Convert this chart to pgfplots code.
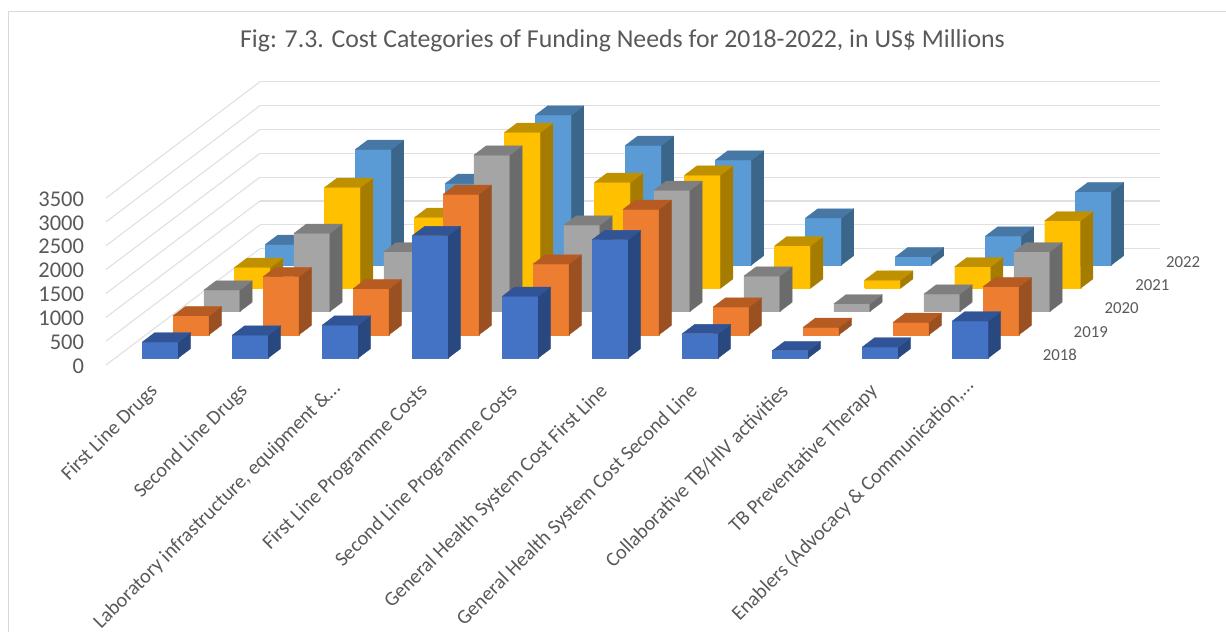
\documentclass[border=0pt]{standalone}
\usepackage{pgfplots}
\pgfplotsset{compat=1.18}
\usepackage{fontspec}
\setmainfont{Carlito}

% text and wall colours
\definecolor{txt}{HTML}{595959}
\definecolor{wall}{HTML}{E0E0E0}
\definecolor{frameline}{HTML}{D9D9D9}
% one colour triple (front, side, top) per series
\definecolor{aF}{HTML}{4472C4}\definecolor{aS}{HTML}{2A4880}\definecolor{aT}{HTML}{305496}
\definecolor{bF}{HTML}{ED7D31}\definecolor{bS}{HTML}{9A5020}\definecolor{bT}{HTML}{B65C22}
\definecolor{cF}{HTML}{A5A5A5}\definecolor{cS}{HTML}{6B6B6B}\definecolor{cT}{HTML}{7F7F7F}
\definecolor{dF}{HTML}{FFC000}\definecolor{dS}{HTML}{A67C00}\definecolor{dT}{HTML}{BF9000}
\definecolor{eF}{HTML}{5B9BD5}\definecolor{eS}{HTML}{3B6589}\definecolor{eT}{HTML}{4677A5}

% one block: category, series depth, value, colour prefix
\newcommand{\block}[4]{%
  \pgfmathsetmacro\xa{#1+0.3}\pgfmathsetmacro\xb{#1+0.7}%
  \pgfmathsetmacro\ya{#2+0.3}\pgfmathsetmacro\yb{#2+0.7}%
  \addplot3[draw=#4F,line width=0.3pt,fill=#4F,mark=none,forget plot] coordinates
    {(\xa,\ya,0)(\xb,\ya,0)(\xb,\ya,#3)(\xa,\ya,#3)(\xa,\ya,0)};
  \addplot3[draw=#4S,line width=0.3pt,fill=#4S,mark=none,forget plot] coordinates
    {(\xb,\ya,0)(\xb,\yb,0)(\xb,\yb,#3)(\xb,\ya,#3)(\xb,\ya,0)};
  \addplot3[draw=#4T,line width=0.3pt,fill=#4T,mark=none,forget plot] coordinates
    {(\xa,\ya,#3)(\xb,\ya,#3)(\xb,\yb,#3)(\xa,\yb,#3)(\xa,\ya,#3)};
}
% one row of ten blocks, left to right
\newcommand{\seriesrow}[3]{%
  \foreach \v [count=\i from 0] in {#3} {\block{\i}{#1}{\v}{#2}}%
}

\begin{document}
\begin{tikzpicture}[x=1pt,y=1pt]
\useasboundingbox (0,0) rectangle (1226,632);
\draw[frameline,line width=1pt] (8.5,0) -- (8.5,620.5) -- (1226,620.5);
\begin{axis}[
  at={(106pt,267pt)}, anchor=origin,
  x={(90pt,0pt)}, y={(30.8pt,23.26pt)}, z={(0pt,0.04771pt)},
  xmin=0, xmax=10, ymin=0, ymax=5, zmin=0, zmax=3500,
  clip=false,
  axis line style={draw=none},
  major tick length=0pt,
  tick label style={text=txt},
  /pgf/number format/assume math mode=true,
  /pgf/number format/1000 sep={},
  zmajorgrids=true,
  major z grid style={draw=wall,line width=1.1pt},
  ztick={0,500,...,3500},
  zticklabel style={font=\fontsize{22.5}{24}\selectfont,anchor=east,xshift=-18.5pt,yshift=-1pt},
  zticklabel pos=left,
  xtick={0.5,1.5,...,9.5},
  xticklabels={First Line Drugs,Second Line Drugs,{Laboratory infrastructure, equipment \&…\hspace*{-4pt}},First Line Programme Costs,Second Line Programme Costs,General Health System Cost First Line,General Health System Cost Second Line,Collaborative TB/HIV activities,TB Preventative Therapy,{Enablers (Advocacy \& Communication,…\hspace*{-8pt}}},
  xticklabel style={font=\fontsize{20.3}{22}\selectfont,xshift=6pt,yshift=-21pt,rotate=45,anchor=east},
  xticklabel pos=lower,
  ytick={0.5,1.5,...,4.5},
  yticklabels={2018,2019,2020,2021,2022},
  yticklabel style={font=\fontsize{16.8}{18}\selectfont,anchor=west,xshift=18pt,yshift=-1.5pt},
  yticklabel pos=left,
]
% rows run from the back (2022) to the front (2018)
\seriesrow{4}{e}{432,2423,1710,3142,2507,2199,983,172,606,1534}
\seriesrow{3}{d}{436,2113,1484,3266,2218,2371,889,170,449,1413}
\seriesrow{2}{c}{449,1637,1251,3278,1811,2538,742,161,365,1251}
\seriesrow{1}{b}{398,1216,964,2943,1482,2628,580,155,260,1006}
\seriesrow{0}{a}{335,480,690,2564,1293,2480,510,153,230,775}
\end{axis}
\node[text=txt,font=\fontsize{25.8}{28}\selectfont] at (622.5,591) {Fig: 7.3. Cost Categories of Funding Needs for 2018-2022, in US\$ Millions};
\end{tikzpicture}
\end{document}
